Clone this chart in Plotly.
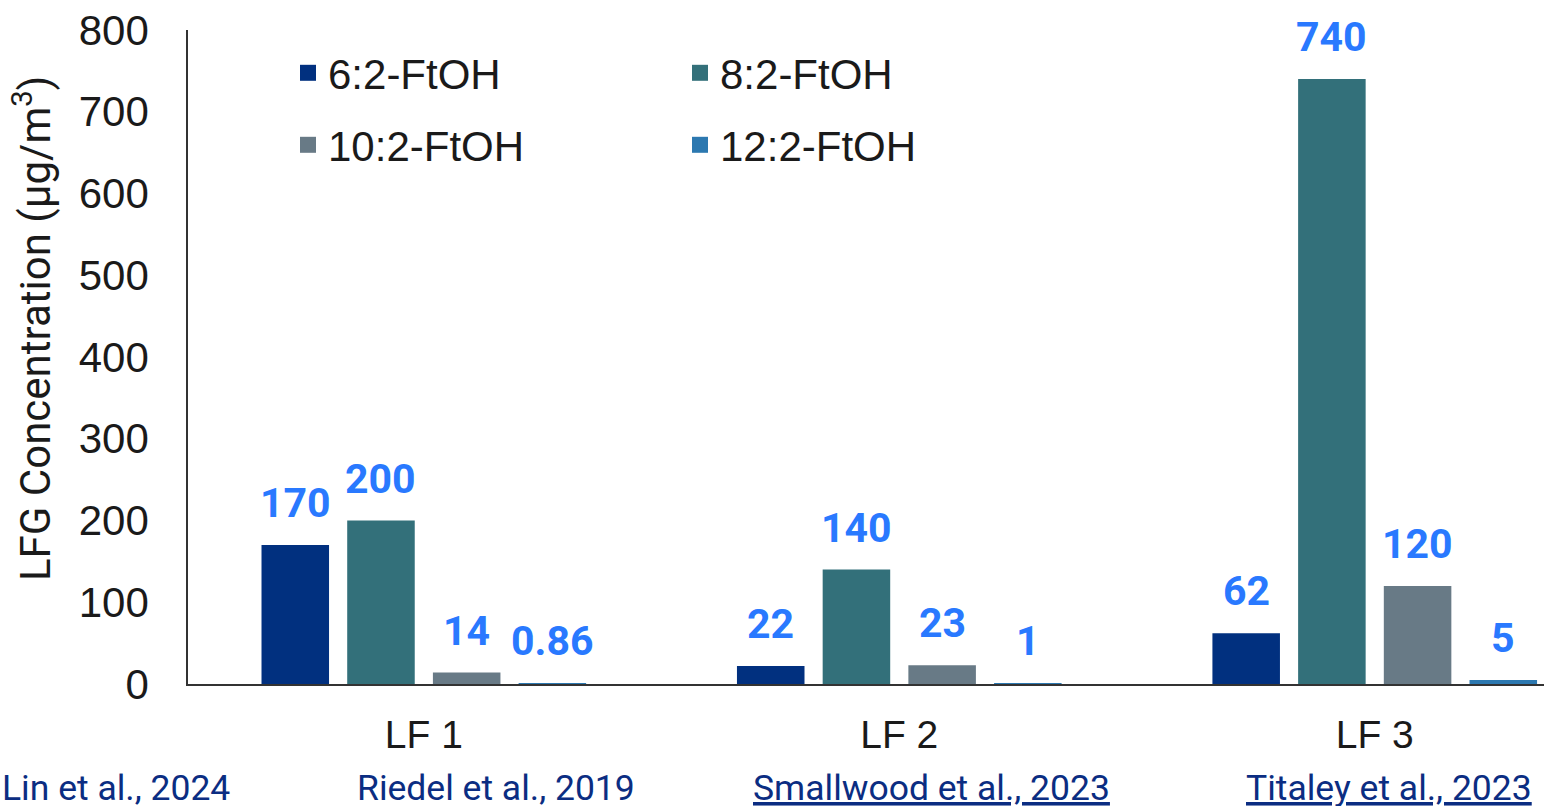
import plotly.graph_objects as go

categories = ["LF 1", "LF 2", "LF 3"]
series_names = ["6:2-FtOH", "8:2-FtOH", "10:2-FtOH", "12:2-FtOH"]
v_62 = [170, 22, 62]
v_82 = [200, 140, 740]
v_102 = [14, 23, 120]
v_122 = [0.86, 1, 5]
labels_62 = ["170", "22", "62"]
labels_82 = ["200", "140", "740"]
labels_102 = ["14", "23", "120"]
labels_122 = ["0.86", "1", "5"]
y_ticks = [0, 100, 200, 300, 400, 500, 600, 700, 800]
citations = ["Lin et al., 2024", "Riedel et al., 2019",
             "<u>Smallwood et al., 2023</u>", "<u>Titaley et al., 2023</u>"]

colors = ["#01307f", "#33707a", "#687a86", "#2c78b0"]
values = [v_62, v_82, v_102, v_122]
labels = [labels_62, labels_82, labels_102, labels_122]

BARGAP = 0.279
GROUPGAP = 0.212
x_idx = list(range(len(categories)))

fig = go.Figure()
for i, (name, vals, col) in enumerate(zip(series_names, values, colors)):
    fig.add_trace(go.Bar(x=x_idx, y=vals, name=name, marker_color=col,
                         marker_line_width=0, showlegend=False))
    # legend proxy
    fig.add_trace(go.Scatter(x=[None], y=[None], mode="markers", name=name,
                             marker=dict(symbol="square", size=18, color=col),
                             legend="legend" if i < 2 else "legend2"))

slot = (1 - BARGAP) / len(series_names)
annotations = []
for i, (vals, labs) in enumerate(zip(values, labels)):
    for c, (v, t) in zip(x_idx, zip(vals, labs)):
        annotations.append(dict(x=c + (i - 1.5) * slot, y=v, xref="x", yref="y",
                                text=t, showarrow=False, yanchor="bottom",
                                yshift=16,
                                font=dict(family="Roboto, Liberation Sans, Arial",
                                          size=41, color="#2979ff", weight="bold")))

W, H = 1544, 806
L, R, T, B = 188, 0, 30, 806 - 684
pw, ph = W - L - R, H - T - B

def px(xp):
    return (xp - L) / pw

def py(yp):
    return (H - B - yp) / ph

cit_x = [0, 355, 751, 1244]
for t, xp in zip(citations, cit_x):
    annotations.append(dict(x=px(xp), y=py(788), xref="paper", yref="paper",
                            text=t, showarrow=False, xanchor="left", yanchor="middle",
                            font=dict(family="Liberation Sans Narrow, Roboto, Arial",
                                      size=35.5, color="#0b2d82")))

annotations.append(dict(x=px(32), y=py(329), xref="paper", yref="paper",
                        text="LFG Concentration (µg/m<sup>3</sup>)", textangle=-90,
                        showarrow=False, xanchor="center", yanchor="middle",
                        font=dict(family="Liberation Sans Narrow, Roboto, Arial",
                                  size=42, color="#1a1a1a")))

fig.update_layout(
    width=W, height=H,
    margin=dict(l=L, r=R, t=T, b=B, pad=0),
    paper_bgcolor="white", plot_bgcolor="white",
    barmode="group", bargap=BARGAP, bargroupgap=GROUPGAP,
    font=dict(family="Liberation Sans, Arial", size=36, color="#1a1a1a"),
    annotations=annotations,
    legend=dict(orientation="h", x=px(288), y=py(73), xanchor="left", yanchor="middle",
                entrywidth=347, font=dict(size=42, color="#1a1a1a"),
                bgcolor="rgba(0,0,0,0)", itemsizing="trace"),
    legend2=dict(orientation="h", x=px(288), y=py(145), xanchor="left", yanchor="middle",
                 entrywidth=347, font=dict(size=42, color="#1a1a1a"),
                 bgcolor="rgba(0,0,0,0)", itemsizing="trace"),
    xaxis=dict(range=[-0.496, 2.356], tickvals=x_idx, ticktext=categories,
               showline=True, linecolor="#333333", linewidth=1.5,
               showgrid=False, zeroline=False, ticks="",
               ticklabelstandoff=15, ticklabeloverflow="allow",
               tickfont=dict(size=39, color="#1a1a1a")),
    yaxis=dict(range=[0, 800], tickvals=y_ticks,
               showline=True, linecolor="#333333", linewidth=1.5,
               showgrid=False, zeroline=False, ticks="",
               ticklabelstandoff=29, ticklabeloverflow="allow",
               tickfont=dict(size=42, color="#1a1a1a")),
)

fig.write_html("out.html", config={"displayModeBar": False},
               post_script="document.body.style.margin='0';document.body.style.overflow='hidden';")
